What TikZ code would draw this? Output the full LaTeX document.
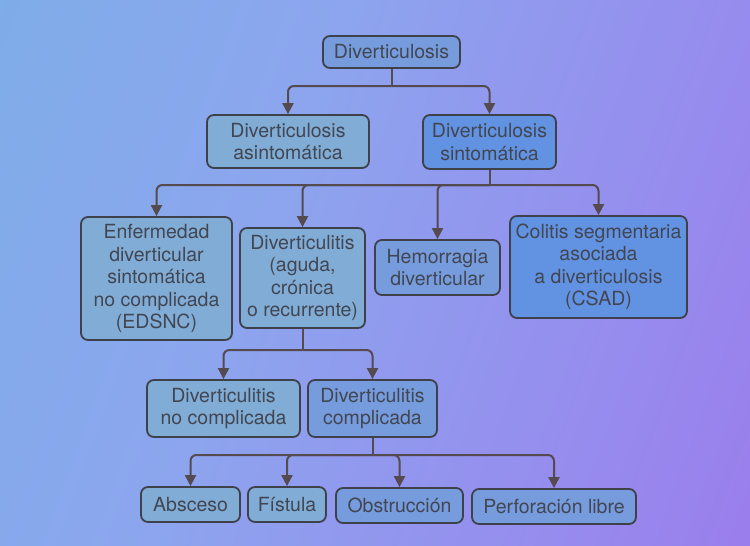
\documentclass[tikz,border=0pt]{standalone}
\usepackage{fontspec}
\setmainfont{TeX Gyre Heros}
\usetikzlibrary{arrows.meta,calc}
\definecolor{bgA}{RGB}{116,178,228}
\definecolor{bgM}{RGB}{140,166,238}
\definecolor{bgN}{RGB}{150,140,238}
\definecolor{bgB}{RGB}{160,108,232}
\definecolor{txt}{RGB}{66,70,82}
\definecolor{edge}{RGB}{62,64,74}
\definecolor{lnk}{RGB}{84,74,80}
\definecolor{fA}{RGB}{128,172,214}
\definecolor{fB}{RGB}{98,146,226}
\definecolor{fC}{RGB}{118,156,222}
\pgfdeclarehorizontalshading{bgsh}{100bp}{color(0bp)=(bgA); color(40bp)=(bgM); color(68bp)=(bgN); color(100bp)=(bgB)}
\tikzset{
  box/.style={draw=edge, line width=1.8pt, rounded corners=7pt, inner sep=0pt,
    align=center, text=txt, font=\fontsize{19.5}{22.5}\selectfont},
  lnkline/.style={draw=lnk, line width=2pt, rounded corners=6pt},
  arr/.style={lnkline, -{Triangle[length=11pt,width=11pt]}},
}
\begin{document}
\begin{tikzpicture}[x=1pt,y=-1pt]
\useasboundingbox (0,0) rectangle (750,546);
\shade[shading=bgsh, shading angle=-20] (0,0) rectangle (750,546);

% level 0
\node[box, fill=fC, minimum width=137pt, minimum height=32pt] (top) at (391.5,52) {Diverticulosis};
% level 1
\node[box, fill=fA, minimum width=162pt, minimum height=53pt] (asin) at (288,141.5) {Diverticulosis\\asintomática};
\node[box, fill=fB, minimum width=133pt, minimum height=54pt] (sint) at (489.5,142) {Diverticulosis\\sintomática};
% level 2
\node[box, fill=fA, minimum width=151pt, minimum height=123pt] (edsnc) at (156.5,278.5) {Enfermedad\\diverticular\\sintomática\\no complicada\\(EDSNC)};
\node[box, fill=fA, minimum width=125pt, minimum height=100pt] (ditis) at (302.5,278) {Diverticulitis\\(aguda,\\crónica\\o recurrente)};
\node[box, fill=fC, minimum width=125pt, minimum height=55pt] (hem) at (437.5,267.5) {Hemorragia\\diverticular};
\node[box, fill=fB, minimum width=177pt, minimum height=102pt] (csad) at (598.5,267) {Colitis segmentaria\\asociada\\a diverticulosis\\(CSAD)};
% level 3
\node[box, fill=fA, minimum width=153pt, minimum height=57pt] (nocomp) at (223.5,408.5) {Diverticulitis\\no complicada};
\node[box, fill=fC, minimum width=129pt, minimum height=57pt] (comp) at (372.5,408.5) {Diverticulitis\\complicada};
% level 4
\node[box, fill=fA, minimum width=99pt, minimum height=35pt] (abs) at (190.5,504.5) {Absceso};
\node[box, fill=fA, minimum width=78pt, minimum height=35pt] (fis) at (287,504.5) {Fístula};
\node[box, fill=fC, minimum width=127pt, minimum height=35pt] (obs) at (399.5,505.5) {Obstrucción};
\node[box, fill=fC, minimum width=164pt, minimum height=35pt] (perf) at (554,506.5) {Perforación libre};

% connectors
\coordinate (j1) at (391.5,86);
\draw[lnkline] (top.south) -- (j1);
\draw[arr] (j1) -| (asin.north);
\draw[arr] (j1) -| (sint.north);

\coordinate (j2) at (489.5,185);
\draw[lnkline] (sint.south) -- (j2);
\draw[arr] (j2) -| (edsnc.north);
\draw[arr] (j2) -| (ditis.north);
\draw[arr] (j2) -| (hem.north);
\draw[arr] (j2) -| (csad.north);

\coordinate (j3) at (302.5,350);
\draw[lnkline] (ditis.south) -- (j3);
\draw[arr] (j3) -| (nocomp.north);
\draw[arr] (j3) -| (comp.north);

\coordinate (j4) at (372.5,455);
\draw[lnkline] (comp.south) -- (j4);
\draw[arr] (j4) -| (abs.north);
\draw[arr] (j4) -| (fis.north);
\draw[arr] (j4) -| (obs.north);
\draw[arr] (j4) -| (perf.north);
\end{tikzpicture}
\end{document}
